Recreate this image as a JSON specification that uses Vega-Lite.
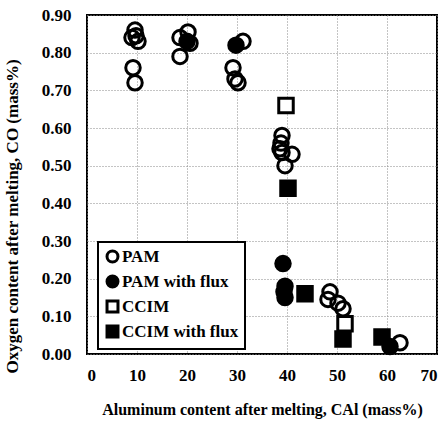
{
  "$schema": "https://vega.github.io/schema/vega-lite/v6.json",
  "width": 350,
  "height": 339,
  "autosize": {"type": "none"},
  "padding": {"left": 87, "top": 15, "right": 11, "bottom": 69},
  "background": "white",
  "config": {
    "font": "Liberation Serif",
    "view": {"stroke": "black", "strokeWidth": 2},
    "axis": {
      "labelFont": "Liberation Serif",
      "labelFontWeight": "bold",
      "labelFontSize": 17,
      "labelColor": "black",
      "titleFont": "Liberation Serif",
      "titleFontWeight": "bold",
      "titleFontSize": 16,
      "titleColor": "black",
      "ticks": false,
      "domain": false,
      "grid": true,
      "gridColor": "#888",
      "gridDash": [1, 2],
      "gridWidth": 1
    },
    "legend": {
      "orient": "none",
      "legendX": 11,
      "legendY": 227,
      "fillColor": "white",
      "strokeColor": "black",
      "strokeWidth": 2,
      "padding": 6,
      "symbolStrokeWidth": 3,
      "symbolSize": 120,
      "labelFont": "Liberation Serif",
      "labelFontWeight": "bold",
      "labelFontSize": 17,
      "labelColor": "black",
      "labelOffset": 1,
      "rowPadding": 2
    }
  },
  "data": {
    "values": [
      {"al": 9.6, "o": 0.86, "series": "PAM"},
      {"al": 9.0, "o": 0.84, "series": "PAM"},
      {"al": 10.2, "o": 0.83, "series": "PAM"},
      {"al": 9.8, "o": 0.845, "series": "PAM"},
      {"al": 9.2, "o": 0.76, "series": "PAM"},
      {"al": 9.6, "o": 0.72, "series": "PAM"},
      {"al": 18.6, "o": 0.84, "series": "PAM"},
      {"al": 20.2, "o": 0.855, "series": "PAM"},
      {"al": 20.6, "o": 0.825, "series": "PAM"},
      {"al": 18.6, "o": 0.79, "series": "PAM"},
      {"al": 31.2, "o": 0.83, "series": "PAM"},
      {"al": 29.2, "o": 0.76, "series": "PAM"},
      {"al": 29.6, "o": 0.73, "series": "PAM"},
      {"al": 30.2, "o": 0.72, "series": "PAM"},
      {"al": 39.0, "o": 0.58, "series": "PAM"},
      {"al": 38.8, "o": 0.56, "series": "PAM"},
      {"al": 38.6, "o": 0.545, "series": "PAM"},
      {"al": 39.0, "o": 0.535, "series": "PAM"},
      {"al": 41.0, "o": 0.53, "series": "PAM"},
      {"al": 39.6, "o": 0.50, "series": "PAM"},
      {"al": 48.6, "o": 0.165, "series": "PAM"},
      {"al": 48.2, "o": 0.145, "series": "PAM"},
      {"al": 50.2, "o": 0.135, "series": "PAM"},
      {"al": 51.2, "o": 0.12, "series": "PAM"},
      {"al": 62.6, "o": 0.03, "series": "PAM"},
      {"al": 20.0, "o": 0.83, "series": "PAM with flux"},
      {"al": 29.8, "o": 0.82, "series": "PAM with flux"},
      {"al": 39.2, "o": 0.24, "series": "PAM with flux"},
      {"al": 39.6, "o": 0.18, "series": "PAM with flux"},
      {"al": 39.4, "o": 0.165, "series": "PAM with flux"},
      {"al": 39.6, "o": 0.15, "series": "PAM with flux"},
      {"al": 60.6, "o": 0.02, "series": "PAM with flux"},
      {"al": 39.8, "o": 0.66, "series": "CCIM"},
      {"al": 51.6, "o": 0.08, "series": "CCIM"},
      {"al": 40.2, "o": 0.44, "series": "CCIM with flux"},
      {"al": 43.6, "o": 0.16, "series": "CCIM with flux"},
      {"al": 51.2, "o": 0.04, "series": "CCIM with flux"},
      {"al": 59.0, "o": 0.045, "series": "CCIM with flux"}
    ]
  },
  "mark": {"type": "point", "filled": true, "strokeWidth": 3, "size": 210, "opacity": 1},
  "encoding": {
    "x": {
      "field": "al", "type": "quantitative",
      "scale": {"domain": [0, 70], "nice": false},
      "axis": {"values": [0, 10, 20, 30, 40, 50, 60, 70], "labelPadding": 13, "titlePadding": 18,
               "title": "Aluminum content after melting, CAl (mass%)"}
    },
    "y": {
      "field": "o", "type": "quantitative",
      "scale": {"domain": [0, 0.9], "nice": false},
      "axis": {"values": [0, 0.1, 0.2, 0.3, 0.4, 0.5, 0.6, 0.7, 0.8, 0.9], "format": ".2f", "labelPadding": 16,
               "titleX": -66, "titleY": 201, "titleFontSize": 17,
               "title": "Oxygen content after melting, CO (mass%)"}
    },
    "shape": {
      "field": "series", "type": "nominal",
      "scale": {"domain": ["PAM", "PAM with flux", "CCIM", "CCIM with flux"], "range": ["circle", "circle", "square", "square"]},
      "legend": {"title": null}
    },
    "fill": {
      "field": "series", "type": "nominal",
      "scale": {"domain": ["PAM", "PAM with flux", "CCIM", "CCIM with flux"], "range": ["transparent", "black", "white", "black"]},
      "legend": {"title": null}
    },
    "stroke": {
      "field": "series", "type": "nominal",
      "scale": {"domain": ["PAM", "PAM with flux", "CCIM", "CCIM with flux"], "range": ["black", "black", "black", "black"]},
      "legend": {"title": null}
    }
  }
}
